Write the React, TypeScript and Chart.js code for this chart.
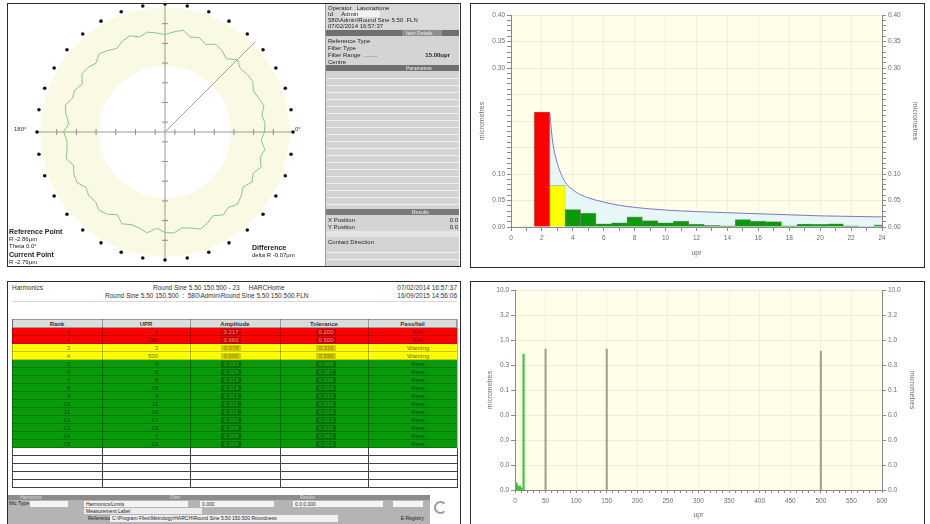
import React, { useEffect, useRef } from "react";
import { Chart, registerables } from "chart.js";
Chart.register(...registerables);

const FONT = "'Liberation Sans', Arial, Helvetica, sans-serif";

// ---------------- polar (roundness) plot ----------------
const polarAngleLabels = Array.from({ length: 72 }, (_, i) => `${i * 5}°`);
const traceDeviation = [
  -2.9, -3.2, -2.7, -3.0, -2.6, -3.1, -2.8, -3.3, -2.9, -2.6,
  -3.0, -2.7, -3.2, -2.8, -2.5, -2.9, -3.1, -2.7, -2.8, -3.2,
  -2.6, -2.9, -3.0, -2.7, -3.3, -2.8, -2.6, -3.0, -2.9, -3.2,
  -2.7, -2.8, -3.1, -2.6, -2.9, -3.0, -2.7, -3.2, -2.8, -2.5,
  -3.0, -2.9, -3.3, -2.7, -2.8, -3.1, -2.6, -2.9, -3.2, -2.8,
  -2.6, -3.0, -2.7, -2.9, -3.1, -2.8, -2.5, -3.0, -2.8, -3.2,
  -2.7, -2.9, -3.3, -2.6, -3.0, -2.8, -2.7, -3.1, -2.9, -2.6,
  -3.0, -2.8,
];
const markerRingValue = 0;
const bandOuterValue = -0.35;
const bandInnerValue = -6.3;
const polarMin = -13;
const polarMax = 0;
const polarTickValues = [-12, -10, -8, -6, -4, -2];
const axisIndices = [0, 18, 36, 54];
const referenceAngleIndex = 63;

// ---------------- harmonic histogram ----------------
const harmonicUpr = [1, 2, 3, 4, 5, 6, 7, 8, 9, 10, 11, 12, 13, 14, 15, 16, 17, 18, 19, 20, 21, 22, 23, 24];
const harmonicAmp = [
  0.001, 0.217, 0.078, 0.033, 0.026, 0.006, 0.008, 0.019, 0.012, 0.008, 0.011, 0.005,
  0.003, 0.002, 0.014, 0.011, 0.010, 0.002, 0.0055, 0.005, 0.006, 0.002, 0.001, 0.004,
];
const harmonicStatus = [
  "none", "fail", "warn", "pass", "pass", "pass", "pass", "pass", "pass", "pass", "pass", "pass",
  "pass", "pass", "pass", "pass", "pass", "pass", "pass", "pass", "pass", "pass", "pass", "pass",
];
const limitUpr = [2.5, 2.7, 3, 3.5, 4, 4.5, 5, 6, 7, 8, 10, 12, 14, 16, 18, 20, 22, 24];
const limitAmp = [0.215, 0.16, 0.12, 0.085, 0.07, 0.061, 0.055, 0.047, 0.041, 0.037, 0.032, 0.029, 0.027, 0.025, 0.023, 0.021, 0.02, 0.019];
const histYLabels = ["0.00", "0.05", "0.10", "0.30", "0.35", "0.40"];

// ---------------- spectrum ----------------
const spectrumUpr = [2, 3, 5, 8, 11, 14, 50, 150, 500];
const spectrumAmp = [0.0014, 0.0013, 0.0012, 0.0012, 0.0011, 0.52, 0.66, 0.66, 0.6];
const spectrumStatus = ["pass", "pass", "pass", "pass", "pass", "pass", "other", "other", "other"];
const spectrumTicks = [0.001, 0.00316, 0.01, 0.0316, 0.1, 0.316, 1, 3.16, 10];

// ---------------- results table ----------------
const tableRank = ["1", "2", "3", "4", "5", "6", "7", "8", "9", "10", "11", "12", "13", "14", "15"];
const tableUpr = ["2", "150", "3", "500", "4", "5", "8", "15", "9", "11", "16", "17", "10", "7", "21"];
const tableAmplitude = ["0.217", "0.660", "0.078", "0.600", "0.033", "0.026", "0.019", "0.014", "0.012", "0.011", "0.011", "0.010", "0.008", "0.008", "0.006"];
const tableTolerance = ["0.200", "0.500", "0.110", "0.550", "0.068", "0.057", "0.036", "0.024", "0.033", "0.030", "0.024", "0.023", "0.032", "0.041", "0.020"];
const tableResult = ["Fail", "Fail", "Warning", "Warning", "Pass", "Pass", "Pass", "Pass", "Pass", "Pass", "Pass", "Pass", "Pass", "Pass", "Pass"];
const tableHeaders = ["Rank", "UPR", "Amplitude", "Tolerance", "Pass/fail"];

const areaBg = (color: string) => ({
  id: "areaBg",
  beforeDraw(chart: any) {
    const { ctx, chartArea: a } = chart;
    ctx.save();
    ctx.fillStyle = color;
    ctx.fillRect(a.left, a.top, a.right - a.left, a.bottom - a.top);
    ctx.restore();
  },
});

function polarConfig(): any {
  const decor = {
    id: "polarDecor",
    beforeDraw(chart: any) {
      const s = chart.scales.r;
      const ctx = chart.ctx;
      ctx.save();
      ctx.beginPath();
      ctx.arc(s.xCenter, s.yCenter, s.getDistanceFromCenterForValue(bandOuterValue), 0, Math.PI * 2);
      ctx.fillStyle = "#fafae4";
      ctx.fill();
      ctx.beginPath();
      ctx.arc(s.xCenter, s.yCenter, s.getDistanceFromCenterForValue(bandInnerValue), 0, Math.PI * 2);
      ctx.fillStyle = "#ffffff";
      ctx.fill();
      ctx.restore();
    },
    beforeDatasetsDraw(chart: any) {
      const s = chart.scales.r;
      const ctx = chart.ctx;
      ctx.save();
      ctx.strokeStyle = "#8e8e8e";
      ctx.lineWidth = 1;
      polarTickValues.forEach((v) => {
        const d = s.getDistanceFromCenterForValue(v);
        ctx.beginPath();
        ctx.moveTo(s.xCenter + d, s.yCenter - 3);
        ctx.lineTo(s.xCenter + d, s.yCenter + 3);
        ctx.moveTo(s.xCenter - d, s.yCenter - 3);
        ctx.lineTo(s.xCenter - d, s.yCenter + 3);
        ctx.moveTo(s.xCenter - 3, s.yCenter + d);
        ctx.lineTo(s.xCenter + 3, s.yCenter + d);
        ctx.moveTo(s.xCenter - 3, s.yCenter - d);
        ctx.lineTo(s.xCenter + 3, s.yCenter - d);
        ctx.stroke();
      });
      ctx.restore();
    },
  };
  return {
    type: "radar",
    data: {
      labels: polarAngleLabels,
      datasets: [
        {
          data: traceDeviation,
          borderColor: "#8cc48c",
          borderWidth: 1,
          pointRadius: 0,
          fill: false,
          tension: 0,
        },
        {
          data: polarAngleLabels.map((_, i) => (i % 2 === 0 ? markerRingValue : null)),
          showLine: false,
          pointRadius: 1.8,
          pointBackgroundColor: "#111",
          pointBorderWidth: 0,
          clip: false,
        },
      ],
    },
    options: {
      responsive: false,
      animation: false,
      events: [],
      layout: { padding: { bottom: 4 } },
      plugins: { legend: { display: false }, tooltip: { enabled: false } },
      scales: {
        r: {
          min: polarMin,
          max: polarMax,
          startAngle: 90,
          grid: { display: false },
          ticks: { display: false, stepSize: 2 },
          pointLabels: { display: false },
          angleLines: {
            display: true,
            color: (c: any) => (c.index === referenceAngleIndex ? "#a79cc0" : "#9a9a9a"),
            lineWidth: (c: any) => (axisIndices.includes(c.index) || c.index === referenceAngleIndex ? 1 : 0),
          },
        },
      },
    },
    plugins: [decor],
  };
}

const tickFont = { family: FONT, size: 6.5 };
const axisGrey = "#6c6c6c";

function histConfig(): any {
  const statusColor: Record<string, string> = { fail: "#ff0000", warn: "#ffff00", pass: "#0a9a0a", none: "#cfcfcf" };
  const yCommon = {
    min: 0,
    max: 0.4,
    border: { color: "#8a8a8a" },
    ticks: {
      stepSize: 0.01,
      autoSkip: false,
      font: tickFont,
      color: axisGrey,
      padding: 2,
      callback: (v: any) => {
        const s = Number(v).toFixed(2);
        return histYLabels.includes(s) ? s : "";
      },
    },
    title: { display: true, text: "micrometres", font: { family: FONT, size: 7 }, color: axisGrey, padding: 0 },
  };
  return {
    type: "bar",
    data: {
      datasets: [
        {
          type: "line",
          data: limitUpr.map((x, i) => ({ x, y: limitAmp[i] })),
          borderColor: "#7f76c4",
          borderWidth: 1,
          pointRadius: 0,
          fill: "origin",
          backgroundColor: "rgba(230,247,246,0.95)",
          cubicInterpolationMode: "monotone",
          order: 2,
        },
        {
          type: "bar",
          data: harmonicUpr.map((x, i) => ({ x, y: harmonicAmp[i] })),
          backgroundColor: harmonicStatus.map((s) => statusColor[s]),
          borderColor: "rgba(40,40,40,0.45)",
          borderWidth: 0.6,
          barPercentage: 1,
          categoryPercentage: 1,
          order: 1,
        },
      ],
    },
    options: {
      responsive: false,
      animation: false,
      events: [],
      layout: { padding: { left: 7, right: 5, top: 11, bottom: 9 } },
      plugins: { legend: { display: false }, tooltip: { enabled: false } },
      scales: {
        x: {
          type: "linear",
          min: 0,
          max: 24,
          offset: false,
          border: { color: "#8a8a8a" },
          grid: {
            offset: false,
            color: (c: any) => (c.tick && c.tick.value % 2 === 0 ? "rgba(228,228,200,0.5)" : "rgba(0,0,0,0)"),
            tickColor: "#8a8a8a",
            tickLength: 4,
          },
          ticks: {
            stepSize: 1,
            autoSkip: false,
            maxRotation: 0,
            font: tickFont,
            color: axisGrey,
            padding: 3,
            callback: (v: any) => (Number(v) % 2 === 0 ? String(v) : ""),
          },
          title: { display: true, text: "upr", font: { family: FONT, size: 7 }, color: axisGrey, padding: 0 },
          afterFit: (s: any) => {
            s.height = 30;
          },
        },
        y: {
          ...yCommon,
          position: "left",
          grid: {
            color: (c: any) => (c.tick && Math.round(c.tick.value * 100) % 5 === 0 ? "rgba(226,226,196,0.6)" : "rgba(0,0,0,0)"),
            tickColor: "#8a8a8a",
            tickLength: 4,
          },
          afterFit: (s: any) => {
            s.width = 33;
          },
        },
        y2: {
          ...yCommon,
          position: "right",
          grid: { drawOnChartArea: false, tickColor: "#8a8a8a", tickLength: 4 },
          afterFit: (s: any) => {
            s.width = 37;
          },
        },
      },
    },
    plugins: [areaBg("#fefeea")],
  };
}

function spectrumConfig(): any {
  const yCommon = {
    type: "logarithmic",
    min: 0.001,
    max: 10,
    border: { color: "#8a8a8a" },
    afterBuildTicks: (s: any) => {
      s.ticks = spectrumTicks.map((v) => ({ value: v }));
    },
    ticks: {
      autoSkip: false,
      font: tickFont,
      color: axisGrey,
      padding: 2,
      callback: (v: any) => Number(v).toFixed(1),
    },
    title: { display: true, text: "micrometres", font: { family: FONT, size: 7 }, color: axisGrey, padding: 0 },
  };
  return {
    type: "bar",
    data: {
      datasets: [
        {
          data: spectrumUpr.map((x, i) => ({ x, y: spectrumAmp[i] })),
          backgroundColor: spectrumStatus.map((s) => (s === "pass" ? "#3cc43c" : "#a4a48e")),
          barThickness: 1.5,
        },
      ],
    },
    options: {
      responsive: false,
      animation: false,
      events: [],
      layout: { padding: { left: 15, right: 8, top: 8, bottom: 5 } },
      plugins: { legend: { display: false }, tooltip: { enabled: false } },
      scales: {
        x: {
          type: "linear",
          min: 0,
          max: 600,
          offset: false,
          border: { color: "#8a8a8a" },
          grid: {
            offset: false,
            color: (c: any) => (c.tick && c.tick.value % 50 === 0 ? "rgba(228,228,200,0.5)" : "rgba(0,0,0,0)"),
            tickColor: "#8a8a8a",
            tickLength: 3,
          },
          ticks: {
            stepSize: 10,
            autoSkip: false,
            maxRotation: 0,
            font: tickFont,
            color: axisGrey,
            padding: 4,
            callback: (v: any) => (Number(v) % 50 === 0 ? String(v) : ""),
          },
          title: { display: true, text: "upr", font: { family: FONT, size: 7 }, color: axisGrey, padding: 0 },
          afterFit: (s: any) => {
            s.height = 29;
          },
        },
        y: {
          ...yCommon,
          position: "left",
          grid: { color: "rgba(226,226,196,0.6)", tickColor: "#8a8a8a", tickLength: 4 },
          afterFit: (s: any) => {
            s.width = 29;
          },
        },
        y2: {
          ...yCommon,
          position: "right",
          grid: { drawOnChartArea: false, tickColor: "#8a8a8a", tickLength: 4 },
          afterFit: (s: any) => {
            s.width = 34;
          },
        },
      },
    },
    plugins: [areaBg("#fefeea")],
  };
}

function ChartCanvas({ left, top, width, height, build }: any) {
  const ref = useRef<HTMLCanvasElement>(null);
  useEffect(() => {
    const chart = new Chart(ref.current as HTMLCanvasElement, build());
    return () => chart.destroy();
  }, []);
  return (
    <canvas
      ref={ref}
      width={width}
      height={height}
      style={{ position: "absolute", left, top, width, height }}
    />
  );
}

function T({ x, y, size = 6, bold = false, color = "#222", right, center, children, bg }: any) {
  const style: any = {
    position: "absolute",
    top: y,
    fontSize: size,
    fontFamily: FONT,
    fontWeight: bold ? "bold" : "normal",
    color,
    lineHeight: 1,
    whiteSpace: "nowrap",
  };
  if (bg) style.background = bg;
  if (right !== undefined) {
    style.right = 930 - right;
  } else if (center !== undefined) {
    style.left = center - 60;
    style.width = 120;
    style.textAlign = "center";
  } else {
    style.left = x;
  }
  return <div style={style}>{children}</div>;
}

function Box({ x, y, w, h, bg, border, extra }: any) {
  return (
    <div
      style={{
        position: "absolute",
        left: x,
        top: y,
        width: w,
        height: h,
        background: bg,
        border,
        boxSizing: "border-box",
        ...(extra || {}),
      }}
    />
  );
}

const stripes = "repeating-linear-gradient(to bottom, #d3d3d3 0px, #d3d3d3 6px, #f0f0f0 6px, #f0f0f0 7px)";

function InfoPanel() {
  return (
    <>
      <Box x={325} y={4} w={134} h={262} bg="#d4d4d4" />
      <Box x={325} y={4} w={134} h={25} bg="#d9d9d9" />
      <T x={328} y={5} size={6}>Operator&nbsp;&nbsp;&nbsp;Lavorazione</T>
      <Box x={345} y={11} w={35} h={6} bg="#f2f2f2" />
      <T x={328} y={11} size={6}>Id&nbsp;&nbsp;&nbsp;&nbsp;&nbsp;Admin</T>
      <T x={328} y={17} size={6}>580\Admin\Round Sine 5.50 .FLN</T>
      <T x={328} y={23} size={6}>07/02/2014 16:57:37</T>
      <Box x={325} y={30} w={134} h={6} bg="#6f6f6f" />
      <Box x={402} y={30} w={40} h={6} bg="#8e8e8e" />
      <T x={406} y={30.5} size={5} color="#eee">Item Details</T>
      <T x={328} y={38} size={6}>Reference Type</T>
      <T x={328} y={45} size={6}>Filter Type</T>
      <T x={328} y={52} size={6}>Filter Range&nbsp;&nbsp;........</T>
      <T right={450} y={52} size={6} bold>15.00upr</T>
      <T x={328} y={59} size={6}>Centre</T>
      <Box x={325} y={65} w={134} h={6} bg="#6f6f6f" />
      <T x={406} y={65.5} size={5} color="#eee">Parameters</T>
      <Box x={325} y={72} w={134} h={137} bg={stripes} />
      <Box x={325} y={209} w={134} h={6} bg="#7a7a7a" />
      <T x={412} y={209.5} size={5} color="#eee">Results</T>
      <T x={328} y={217} size={6}>X Position</T>
      <T right={458} y={217} size={6}>0.0</T>
      <T x={328} y={224} size={6}>Y Position</T>
      <T right={458} y={224} size={6}>0.0</T>
      <Box x={325} y={231} w={134} h={6} bg="#e4e4e4" />
      <T x={328} y={239} size={6}>Contact Direction</T>
      <Box x={325} y={246} w={134} h={20} bg={stripes} />
      <Box x={325} y={4} w={1} h={262} bg="#9a9a9a" />
    </>
  );
}

function PolarPanel() {
  return (
    <>
      <ChartCanvas left={7} top={4} width={317} height={261} build={polarConfig} />
      <T x={14} y={126} size={6} color="#333">180°</T>
      <T x={295} y={126} size={6} color="#333">0°</T>
      <Box x={8} y={227} w={62} h={38} bg="rgba(255,255,255,0.85)" />
      <T x={9} y={228} size={7} bold>Reference Point</T>
      <T x={9} y={236} size={6}>R -2.86µm</T>
      <T x={9} y={243} size={6}>Theta 0.0°</T>
      <T x={9} y={251} size={7} bold>Current Point</T>
      <T x={9} y={259} size={6}>R -2.79µm</T>
      <T x={252} y={244} size={7} bold>Difference</T>
      <T x={252} y={252} size={6}>delta R -0.07µm</T>
    </>
  );
}

const colEdges = [12, 102, 190, 280, 368, 457];
const rowTop = 328;
const rowH = 8;

function ResultsTable() {
  const rowBg: Record<string, string> = { Fail: "#ff0000", Warning: "#ffff00", Pass: "#089a08" };
  const dark: Record<string, string> = { Fail: "#7a0000", Warning: "#7a6a00", Pass: "#004a00" };
  const hi: Record<string, string> = { Fail: "#c40000", Warning: "#d6cf00", Pass: "#006e00" };
  const hiText: Record<string, string> = { Fail: "#ff9a9a", Warning: "#8a7a00", Pass: "#2fbf2f" };
  const items: any[] = [];
  items.push(<Box key="hdr" x={12} y={319} w={445} h={9} bg="#dcdcdc" border="1px solid #9a9a9a" />);
  tableHeaders.forEach((h, i) => {
    items.push(
      <T key={"h" + i} center={(colEdges[i] + colEdges[i + 1]) / 2} y={320.5} size={6} bold color="#333">
        {h}
      </T>
    );
  });
  tableResult.forEach((res, r) => {
    const y = rowTop + r * rowH;
    items.push(<Box key={"r" + r} x={12} y={y} w={445} h={rowH} bg={rowBg[res]} />);
    items.push(<Box key={"rl" + r} x={12} y={y + rowH - 1} w={445} h={1} bg="rgba(0,0,0,0.22)" />);
    items.push(<Box key={"ah" + r} x={221} y={y + 0.5} w={20} h={7} bg={hi[res]} />);
    items.push(<Box key={"th" + r} x={316} y={y + 0.5} w={20} h={7} bg={hi[res]} />);
    items.push(<T key={"c0" + r} right={70} y={y + 1} size={6} color={dark[res]}>{tableRank[r]}</T>);
    items.push(<T key={"c1" + r} right={158} y={y + 1} size={6} color={dark[res]}>{tableUpr[r]}</T>);
    items.push(<T key={"c2" + r} center={231} y={y + 1} size={6} color={hiText[res]}>{tableAmplitude[r]}</T>);
    items.push(<T key={"c3" + r} center={326} y={y + 1} size={6} color={hiText[res]}>{tableTolerance[r]}</T>);
    items.push(<T key={"c4" + r} center={418} y={y + 1} size={6} color={dark[res]}>{res}</T>);
  });
  const filledBottom = rowTop + tableResult.length * rowH;
  for (let k = 1; k <= 5; k++) {
    items.push(<Box key={"wl" + k} x={12} y={filledBottom + k * rowH - 1} w={445} h={1} bg="#444" />);
  }
  colEdges.forEach((x, i) => {
    items.push(<Box key={"vc" + i} x={x} y={319} w={1} h={filledBottom - 319} bg="rgba(0,0,0,0.3)" />);
    items.push(<Box key={"vw" + i} x={x} y={filledBottom} w={1} h={5 * rowH} bg="#444" />);
  });
  return <>{items}</>;
}

function StatusBar() {
  return (
    <>
      <Box x={7} y={495} w={423} h={29} bg="#b4b4b4" />
      <Box x={7} y={495} w={423} h={5} bg="#8c8c8c" />
      <T x={20} y={495.5} size={4.5} color="#ddd">Harmonics</T>
      <T x={170} y={495.5} size={4.5} color="#ddd">Filter</T>
      <T x={300} y={495.5} size={4.5} color="#ddd">Results</T>
      <T x={9} y={501} size={5}>Mic Type</T>
      <Box x={30} y={501} w={38} h={6} bg="#f4f4f4" />
      <Box x={84} y={501} w={104} h={6} bg="#f4f4f4" />
      <T x={86} y={501.5} size={5}>Harmonics/Limits</T>
      <Box x={200} y={501} w={74} h={6} bg="#f4f4f4" />
      <T x={202} y={501.5} size={5}>0.000</T>
      <Box x={293} y={501} w={90} h={6} bg="#f4f4f4" />
      <T x={295} y={501.5} size={5}>0.0 0.000</T>
      <Box x={393} y={501} w={30} h={6} bg="#f4f4f4" />
      <Box x={84} y={508} w={118} h={6} bg="#ececec" />
      <T x={86} y={508.5} size={5}>Measurement Label</T>
      <T x={88} y={516} size={5}>Reference</T>
      <Box x={110} y={515} w={228} h={7} bg="#f0f0f0" />
      <T x={112} y={516} size={5}>C:\Program Files\Metrology\HARCH\Round Sine 5.50 150.500 Roundness</T>
      <T right={424} y={516} size={5}>E-Registry</T>
      <div
        style={{
          position: "absolute",
          left: 434,
          top: 501,
          width: 9,
          height: 9,
          borderRadius: "50%",
          border: "2px solid #9a9a9a",
          borderRightColor: "transparent",
        }}
      />
    </>
  );
}

export default function App() {
  return (
    <div
      style={{
        position: "fixed",
        left: 0,
        top: 0,
        width: 930,
        height: 524,
        overflow: "hidden",
        background: "#ffffff",
        fontFamily: FONT,
      }}
    >
      <PolarPanel />
      <InfoPanel />
      <Box x={7} y={3} w={454} h={264} border="1.5px solid #2c2c2c" />

      <ChartCanvas left={471} top={4} width={453} height={262} build={histConfig} />
      <Box x={470} y={3} w={455} h={265} border="1.5px solid #2c2c2c" />

      <T x={12} y={285} size={6.5} color="#333">Harmonics</T>
      <T x={153} y={285} size={6.5} color="#333">Round Sine 5.50 150.500 - 23&nbsp;&nbsp;&nbsp;&nbsp;&nbsp;HARCHome</T>
      <T right={457} y={285} size={6.5} color="#333">07/02/2014 16:57:37</T>
      <T x={105} y={293} size={6.5} color="#333">Round Sine 5.50 150.500&nbsp;&nbsp;:&nbsp;&nbsp;580\Admin\Round Sine 5.50 150.500.FLN</T>
      <T right={457} y={293} size={6.5} color="#333">16/09/2015 14:56:06</T>
      <Box x={12} y={301} w={445} h={1} bg="#d8d8d8" />
      <ResultsTable />
      <StatusBar />
      <Box x={7} y={281} w={454} h={260} border="1.5px solid #2c2c2c" />

      <ChartCanvas left={471} top={282} width={453} height={242} build={spectrumConfig} />
      <Box x={470} y={281} w={455} h={260} border="1.5px solid #2c2c2c" />
    </div>
  );
}
